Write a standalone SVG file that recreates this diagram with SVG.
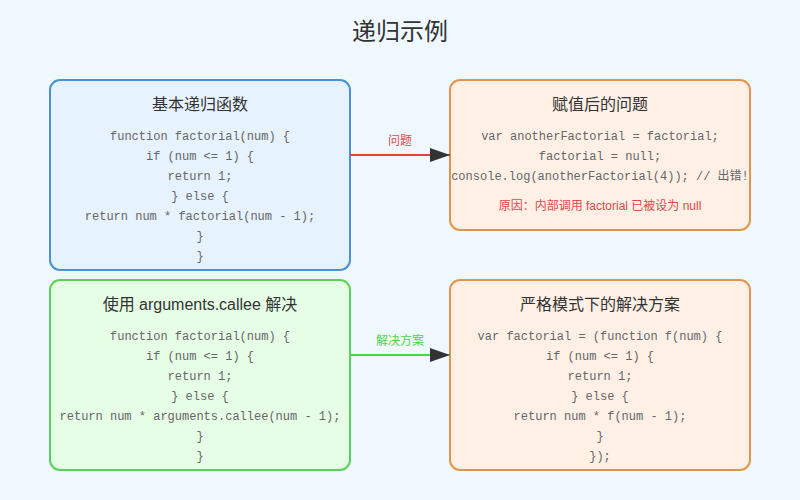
<svg xmlns="http://www.w3.org/2000/svg" width="800" height="500" viewBox="0 0 800 500">
<defs>
<style>
.title{font-family:"Liberation Sans","Noto Sans CJK SC",sans-serif;font-size:24px;fill:#333;text-anchor:middle}
.h{font-family:"Liberation Sans","Noto Sans CJK SC",sans-serif;font-size:16px;fill:#333;text-anchor:middle}
.code{font-family:"Liberation Mono","Noto Sans CJK SC",monospace;font-size:12px;fill:#666;text-anchor:middle}
.lbl{font-family:"Liberation Sans","Noto Sans CJK SC",sans-serif;font-size:12px;text-anchor:middle}
.box{stroke-width:2}
</style>
<marker id="arr" viewBox="0 0 10 7" markerWidth="10" markerHeight="7" refX="10" refY="3.5" orient="auto">
<polygon points="0 0,10 3.5,0 7" fill="#333"/>
</marker>
</defs>
<rect width="800" height="500" fill="#f0f8ff"/>
<text class="title" x="400" y="40">递归示例</text>

<g id="basic">
<rect class="box" x="50" y="80" width="300" height="190" rx="10" fill="#e6f2fe" stroke="#4a90d9"/>
<text class="h" x="200" y="110">基本递归函数</text>
<text class="code" x="200" y="140">function factorial(num) {</text>
<text class="code" x="200" y="160">if (num &lt;= 1) {</text>
<text class="code" x="200" y="180">return 1;</text>
<text class="code" x="200" y="200">} else {</text>
<text class="code" x="200" y="220">return num * factorial(num - 1);</text>
<text class="code" x="200" y="240">}</text>
<text class="code" x="200" y="260">}</text>
</g>

<g id="problem">
<rect class="box" x="450" y="80" width="300" height="150" rx="10" fill="#fff0e6" stroke="#e0954f"/>
<text class="h" x="600" y="110">赋值后的问题</text>
<text class="code" x="600" y="140">var anotherFactorial = factorial;</text>
<text class="code" x="600" y="160">factorial = null;</text>
<text class="code" x="600" y="180">console.log(anotherFactorial(4)); // 出错!</text>
<text class="lbl" x="600" y="210" fill="#e04848">原因：内部调用 factorial 已被设为 null</text>
</g>

<g id="callee">
<rect class="box" x="50" y="280" width="300" height="190" rx="10" fill="#e6fee6" stroke="#5ad25a"/>
<text class="h" x="200" y="310">使用 arguments.callee 解决</text>
<text class="code" x="200" y="340">function factorial(num) {</text>
<text class="code" x="200" y="360">if (num &lt;= 1) {</text>
<text class="code" x="200" y="380">return 1;</text>
<text class="code" x="200" y="400">} else {</text>
<text class="code" x="200" y="420">return num * arguments.callee(num - 1);</text>
<text class="code" x="200" y="440">}</text>
<text class="code" x="200" y="460">}</text>
</g>

<g id="strict">
<rect class="box" x="450" y="280" width="300" height="190" rx="10" fill="#fff0e6" stroke="#e0954f"/>
<text class="h" x="600" y="310">严格模式下的解决方案</text>
<text class="code" x="600" y="340">var factorial = (function f(num) {</text>
<text class="code" x="600" y="360">if (num &lt;= 1) {</text>
<text class="code" x="600" y="380">return 1;</text>
<text class="code" x="600" y="400">} else {</text>
<text class="code" x="600" y="420">return num * f(num - 1);</text>
<text class="code" x="600" y="440">}</text>
<text class="code" x="600" y="460">});</text>
</g>

<g id="connectors">
<line x1="350" y1="155" x2="450" y2="155" stroke="#e04040" stroke-width="2" marker-end="url(#arr)"/>
<text class="lbl" x="400" y="145" fill="#e04848">问题</text>
<line x1="350" y1="355" x2="450" y2="355" stroke="#4cd44c" stroke-width="2" marker-end="url(#arr)"/>
<text class="lbl" x="400" y="345" fill="#4cd44c">解决方案</text>
</g>
</svg>
